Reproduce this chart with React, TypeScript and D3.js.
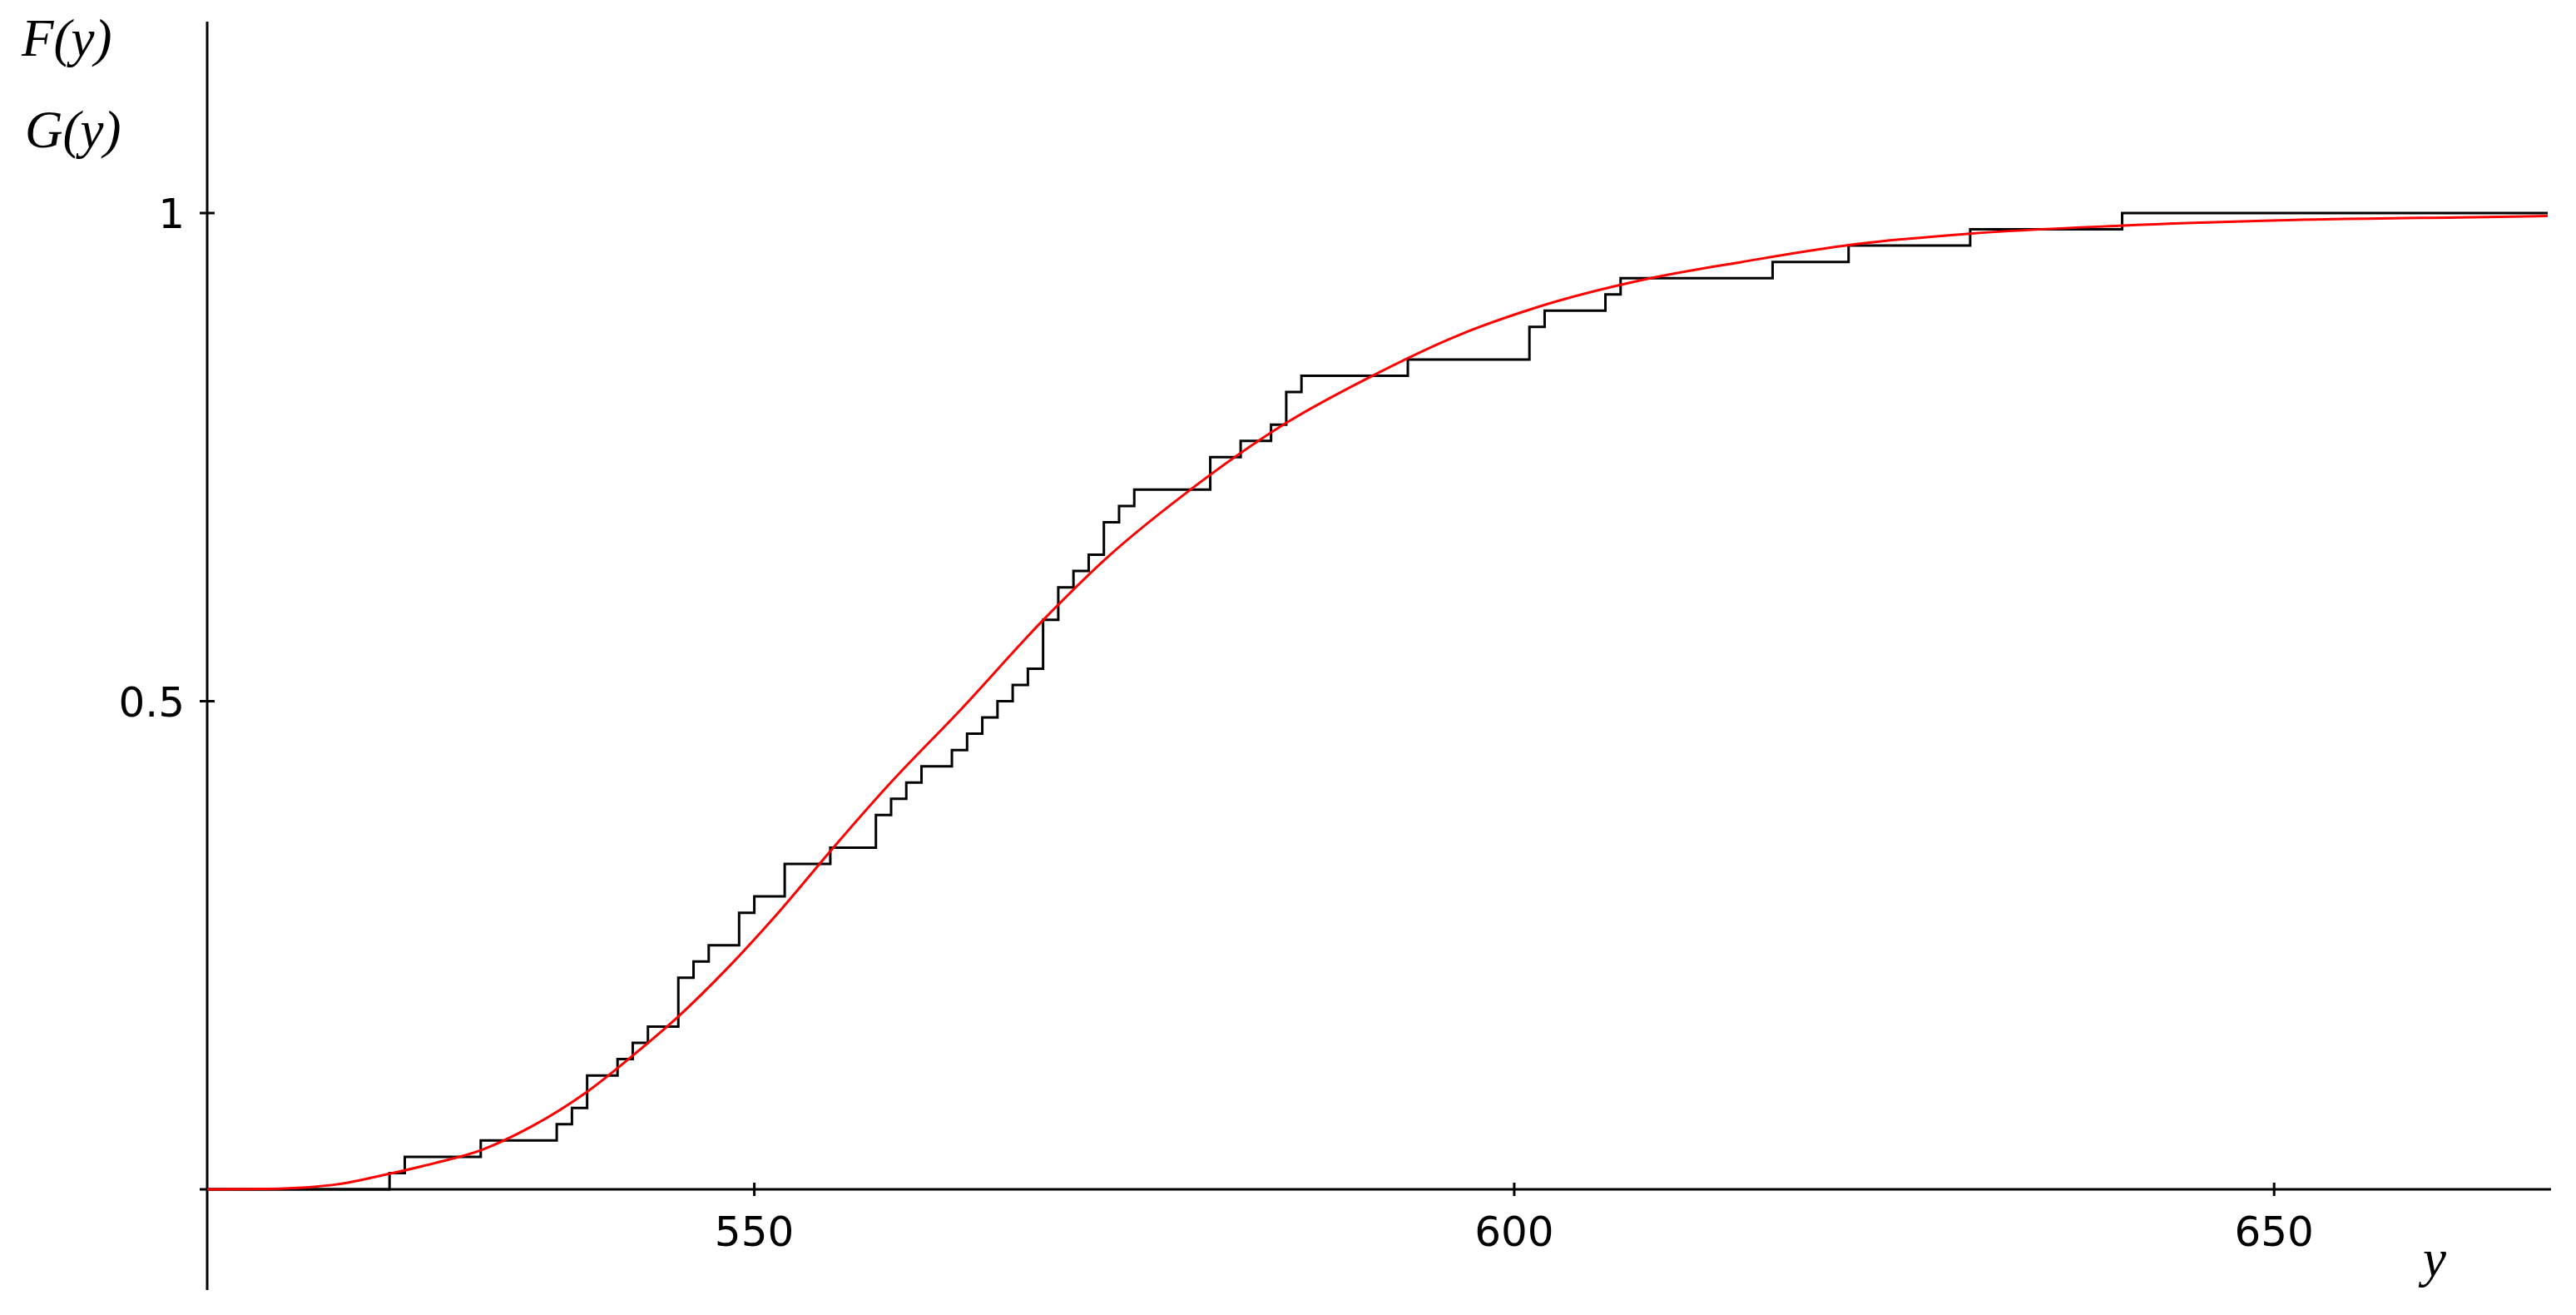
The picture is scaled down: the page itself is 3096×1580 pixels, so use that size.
import React from 'react';
import * as d3 from 'd3';

// Sample observations (read from the empirical CDF steps), n = 60
const sampleValues = [
  526, 527, 532, 537, 538, 539, 539, 541, 542, 543,
  545, 545, 545, 546, 547, 549, 549, 550, 552, 552,
  555, 558, 558, 559, 560, 561, 563, 564, 565, 566,
  567, 568, 569, 569, 569, 570, 570, 571, 572, 573,
  573, 574, 575, 580, 580, 582, 584, 585, 585, 586,
  593, 601, 601, 602, 606, 607, 617, 622, 630, 640,
];

// Fitted distribution G(y)
const fitX = [514, 518, 520.5, 522.5, 526, 529, 532, 535.3, 539, 542, 545, 548.2, 551.5, 555.2, 559, 563.5, 569, 573.2, 578.3, 585.1, 590.5, 596.2, 601.4, 608.9, 615, 622.4, 630, 639.8, 650.3, 664, 668];
const fitG = [0, 0.0005, 0.002, 0.005, 0.016, 0.027, 0.04, 0.064, 0.1, 0.137, 0.177, 0.226, 0.282, 0.35, 0.417, 0.49, 0.583, 0.647, 0.712, 0.786, 0.832, 0.874, 0.903, 0.933, 0.95, 0.968, 0.979, 0.987, 0.9925, 0.996, 0.997];

const xDomain = [514, 668];
const xTicks = [550, 600, 650];
const yTicks = [0.5, 1];
const yTickLabels = ['0.5', '1'];

export default function App() {
  const W = 3096;
  const H = 1580;
  const x = d3.scaleLinear().domain(xDomain).range([249, 3062]);
  const y = d3.scaleLinear().domain([0, 1]).range([1429, 256]);

  const n = sampleValues.length;
  const sorted = [...sampleValues].sort(d3.ascending);
  const ecdf: [number, number][] = [[xDomain[0], 0]];
  sorted.forEach((v, i) => ecdf.push([v, (i + 1) / n]));
  ecdf.push([xDomain[1], 1]);

  const stepLine = d3
    .line<[number, number]>()
    .x((d) => x(d[0]))
    .y((d) => y(d[1]))
    .curve(d3.curveStepAfter);

  const fitPts: [number, number][] = fitX.map((v, i) => [v, fitG[i]]);
  const fitLine = d3
    .line<[number, number]>()
    .x((d) => x(d[0]))
    .y((d) => y(d[1]))
    .curve(d3.curveMonotoneX);

  const x0 = x(xDomain[0]);
  const y0 = y(0);
  const tickFont = "'DejaVu Sans', sans-serif";
  const labelFont = "'Liberation Serif', 'Times New Roman', serif";

  return (
    <svg
      width={W}
      height={H}
      viewBox={`0 0 ${W} ${H}`}
      style={{ position: 'absolute', left: 0, top: 0, display: 'block', background: '#fff' }}
    >
      <rect x={0} y={0} width={W} height={H} fill="#fff" />
      {/* axes */}
      <line x1={x0 - 9} x2={3066} y1={y0} y2={y0} stroke="#000" strokeWidth={3} />
      <line x1={x0} x2={x0} y1={26} y2={1550} stroke="#000" strokeWidth={3} />
      {xTicks.map((t) => (
        <g key={'xt' + t}>
          <line x1={x(t)} x2={x(t)} y1={y0 - 8} y2={y0 + 8} stroke="#000" strokeWidth={3} />
          <text x={x(t)} y={1497} textAnchor="middle" fontFamily={tickFont} fontSize={50} fill="#000">
            {t}
          </text>
        </g>
      ))}
      {yTicks.map((t, i) => (
        <g key={'yt' + t}>
          <line x1={x0 - 9} x2={x0 + 9} y1={y(t)} y2={y(t)} stroke="#000" strokeWidth={3} />
          <text x={222} y={y(t) + 18} textAnchor="end" fontFamily={tickFont} fontSize={50} fill="#000">
            {yTickLabels[i]}
          </text>
        </g>
      ))}
      {/* axis labels */}
      <text x={26} y={67} fontFamily={labelFont} fontStyle="italic" fontSize={63} fill="#000">
        F(y)
      </text>
      <text x={30} y={177} fontFamily={labelFont} fontStyle="italic" fontSize={63} fill="#000">
        G(y)
      </text>
      <text x={2912} y={1533} fontFamily={labelFont} fontStyle="italic" fontSize={63} fill="#000">
        y
      </text>
      {/* empirical CDF */}
      <path d={stepLine(ecdf) || ''} fill="none" stroke="#000" strokeWidth={3} />
      {/* fitted CDF */}
      <path d={fitLine(fitPts) || ''} fill="none" stroke="#ff0000" strokeWidth={3} />
    </svg>
  );
}
